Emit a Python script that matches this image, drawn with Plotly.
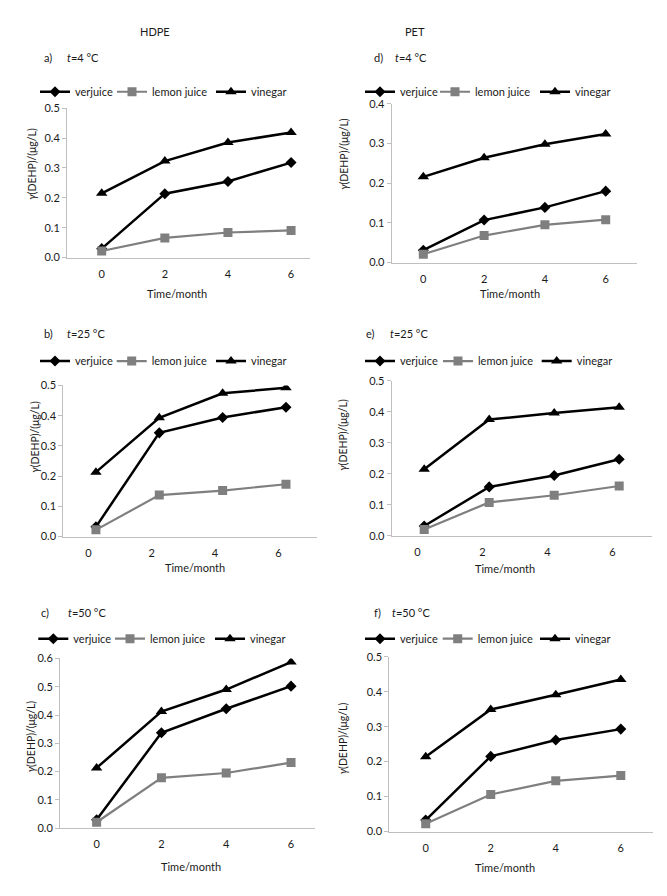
import plotly.graph_objects as go

# ---------------- data ----------------
months = [0, 2, 4, 6]
month_labels = ["0", "2", "4", "6"]
series_names = ["verjuice", "lemon juice", "vinegar"]

hdpe_4_verjuice = [0.030, 0.214, 0.255, 0.318]
hdpe_4_lemon = [0.022, 0.066, 0.084, 0.091]
hdpe_4_vinegar = [0.215, 0.323, 0.385, 0.419]

pet_4_verjuice = [0.031, 0.107, 0.139, 0.180]
pet_4_lemon = [0.021, 0.068, 0.095, 0.108]
pet_4_vinegar = [0.216, 0.264, 0.298, 0.324]

hdpe_25_verjuice = [0.032, 0.343, 0.394, 0.428]
hdpe_25_lemon = [0.022, 0.137, 0.152, 0.173]
hdpe_25_vinegar = [0.213, 0.393, 0.474, 0.492]

pet_25_verjuice = [0.032, 0.158, 0.195, 0.247]
pet_25_lemon = [0.021, 0.108, 0.131, 0.161]
pet_25_vinegar = [0.215, 0.375, 0.396, 0.415]

hdpe_50_verjuice = [0.030, 0.337, 0.422, 0.502]
hdpe_50_lemon = [0.021, 0.178, 0.195, 0.232]
hdpe_50_vinegar = [0.213, 0.412, 0.490, 0.587]

pet_50_verjuice = [0.033, 0.215, 0.262, 0.293]
pet_50_lemon = [0.022, 0.106, 0.145, 0.160]
pet_50_vinegar = [0.214, 0.349, 0.391, 0.435]

panel_letters = ["a)", "d)", "b)", "e)", "c)", "f)"]
panel_temps = ["4", "4", "25", "25", "50", "50"]
column_titles = ["HDPE", "PET"]
x_title = "Time/month"
y_title = "<i>γ</i>(DEHP)/(μg/L)"

panel_data = [
    (hdpe_4_verjuice, hdpe_4_lemon, hdpe_4_vinegar),
    (pet_4_verjuice, pet_4_lemon, pet_4_vinegar),
    (hdpe_25_verjuice, hdpe_25_lemon, hdpe_25_vinegar),
    (pet_25_verjuice, pet_25_lemon, pet_25_vinegar),
    (hdpe_50_verjuice, hdpe_50_lemon, hdpe_50_vinegar),
    (pet_50_verjuice, pet_50_lemon, pet_50_vinegar),
]

# ---------------- geometry / style ----------------
W, H = 667, 896
FONT = "Lato"
TXT = "#1a1a1a"
AXC = "#bfbfbf"


def px(x):
    return x / W


def py(y):
    return 1 - y / H


# pixel geometry of each panel (layout only)
geo = [
    dict(xd=(67, 310), yd=(254.3, 102.7), xr=[-1.1, 6.6], yr=[0, 0.5], off=0.0,
         legx=(40, 117, 216), legy=86, lab=(42, 65, 51.7), xt=(177, 291), yt=(32, 159)),
    dict(xd=(391.7, 636.7), yd=(259.3, 98.3), xr=[-1.04, 7.02], yr=[0, 0.4], off=0.0,
         legx=(365, 440, 540), legy=86, lab=(372, 393, 51.7), xt=(510, 291), yt=(344, 149)),
    dict(xd=(63.3, 316.7), yd=(537.3, 384), xr=[-1.03, 6.97], yr=[0, 0.5], off=0.24,
         legx=(40, 116.7, 216), legy=359.3, lab=(42, 65, 331), xt=(195, 568.5), yt=(35, 436)),
    dict(xd=(391.7, 651.7), yd=(536.7, 379.3), xr=[-1.0, 7.0], yr=[0, 0.5], off=0.21,
         legx=(365, 443, 541.7), legy=359.3, lab=(364, 388, 331), xt=(505, 570), yt=(343, 434)),
    dict(xd=(60, 315), yd=(833.3, 661), xr=[-1.13, 6.74], yr=[0, 0.6], off=0.0,
         legx=(38.3, 115, 215), legy=641, lab=(39.3, 65.5, 614.3), xt=(191, 872), yt=(31, 740)),
    dict(xd=(389.3, 653.3), yd=(836.7, 659.3), xr=[-1.12, 7.0], yr=[0, 0.5], off=0.0,
         legx=(365, 442.7, 540), legy=641, lab=(372, 390, 614), xt=(505, 873), yt=(343, 742)),
]

styles = [
    dict(color="#000000", width=2.5, symbol="diamond", size=8.5),
    dict(color="#7f7f7f", width=2.2, symbol="square", size=9),
    dict(color="#000000", width=2.5, symbol="triangle-up", size=10),
]

fig = go.Figure()
annotations = []
layout_extra = {}
leg_count = 0

for i, (g, data) in enumerate(zip(geo, panel_data)):
    n = "" if i == 0 else str(i + 1)
    xa, ya = "x" + n, "y" + n
    for j, (name, vals, st) in enumerate(zip(series_names, data, styles)):
        leg_count += 1
        leg = "legend" if leg_count == 1 else "legend" + str(leg_count)
        fig.add_trace(go.Scatter(
            x=months, y=vals, name=name, mode="lines+markers",
            xaxis=xa, yaxis=ya, legend=leg,
            line=dict(color=st["color"], width=st["width"]),
            marker=dict(color=st["color"], symbol=st["symbol"], size=st["size"],
                        line=dict(width=0)),
        ))
        layout_extra[leg] = dict(
            orientation="h", x=px(g["legx"][j] - 5), y=py(g["legy"]),
            xanchor="left", yanchor="middle", bgcolor="rgba(0,0,0,0)",
            borderwidth=0, font=dict(family=FONT, size=11, color=TXT),
            itemwidth=30, itemclick=False, itemdoubleclick=False,
        )
    layout_extra["xaxis" + n] = dict(
        domain=[px(g["xd"][0]), px(g["xd"][1])], range=g["xr"], anchor=ya,
        tickvals=[m - g["off"] for m in months], ticktext=month_labels,
        showline=True, linecolor=AXC, linewidth=1, showgrid=False, zeroline=False,
        ticks="outside", ticklen=6, tickcolor="rgba(0,0,0,0)",
        tickfont=dict(family=FONT, size=11, color=TXT), fixedrange=True,
    )
    layout_extra["yaxis" + n] = dict(
        domain=[py(g["yd"][0]), py(g["yd"][1])], range=g["yr"], anchor=xa,
        dtick=0.1, tick0=0, tickformat=".1f",
        showline=True, linecolor=AXC, linewidth=1, showgrid=False, zeroline=False,
        ticks="outside", ticklen=4, tickcolor=AXC,
        tickfont=dict(family=FONT, size=11, color=TXT), fixedrange=True,
    )
    lx, tx, ly = g["lab"]
    annotations.append(dict(text=panel_letters[i], x=px(lx), y=py(ly), xref="paper", yref="paper",
                            xanchor="left", yanchor="middle", showarrow=False,
                            font=dict(family=FONT, size=11, color=TXT)))
    annotations.append(dict(text="<i>t</i>=" + panel_temps[i] + " °C", x=px(tx), y=py(ly),
                            xref="paper", yref="paper", xanchor="left", yanchor="middle",
                            showarrow=False, font=dict(family=FONT, size=11, color=TXT)))
    annotations.append(dict(text=x_title, x=px(g["xt"][0]), y=py(g["xt"][1]), xref="paper",
                            yref="paper", xanchor="center", yanchor="middle", showarrow=False,
                            font=dict(family=FONT, size=11, color=TXT)))
    annotations.append(dict(text=y_title, x=px(g["yt"][0]), y=py(g["yt"][1]), xref="paper",
                            yref="paper", xanchor="center", yanchor="middle", showarrow=False,
                            textangle=-90, font=dict(family=FONT, size=10.5, color=TXT)))

annotations.append(dict(text=column_titles[0], x=px(155), y=py(25), xref="paper", yref="paper",
                        xanchor="center", yanchor="middle", showarrow=False,
                        font=dict(family=FONT, size=11, color=TXT)))
annotations.append(dict(text=column_titles[1], x=px(415), y=py(25), xref="paper", yref="paper",
                        xanchor="center", yanchor="middle", showarrow=False,
                        font=dict(family=FONT, size=11, color=TXT)))

fig.update_layout(
    width=W, height=H, margin=dict(l=0, r=0, t=0, b=0),
    paper_bgcolor="white", plot_bgcolor="white",
    annotations=annotations, showlegend=True,
    **layout_extra,
)

post = (
    "document.documentElement.style.margin='0';"
    "document.documentElement.style.padding='0';"
    "document.documentElement.style.overflow='hidden';"
    "document.body.style.margin='0';"
    "document.body.style.padding='0';"
    "document.body.style.overflow='hidden';"
    "var gd=document.getElementById('{plot_id}');"
    "gd.style.position='fixed';gd.style.left='0px';gd.style.top='0px';"
)

fig.write_html("out.html", config={"displayModeBar": False}, post_script=post)
